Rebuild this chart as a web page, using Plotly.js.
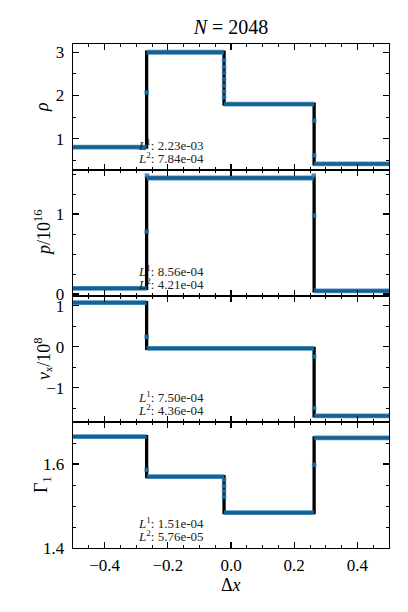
<!DOCTYPE html>
<html>
<head>
<meta charset="utf-8">
<script src="https://cdn.plot.ly/plotly-3.0.1.min.js"></script>
<style>
html,body{margin:0;padding:0;background:#fff;}
#chart{width:408px;height:612px;}
</style>
</head>
<body>
<div id="chart"></div>
<script>
// ---- data ----
const xEdges = [-0.5, -0.267, -0.022, 0.263, 0.5];   // left boundary, left shock, contact, right shock, right boundary

const rhoStates   = [0.81, 3.00, 1.80, 0.42];
const presStates  = [0.07, 1.45, 1.45, 0.04];
const velStates   = [1.08, -0.04, -0.04, -1.69];
const gammaStates = [1.665, 1.570, 1.484, 1.662];

// intermediate numerical cells on the discontinuities
const rhoJumpX   = [-0.267, -0.022, -0.022, -0.022, -0.022, -0.022, -0.022, -0.022, 0.263, 0.263];
const rhoJumpY   = [2.07, 2.81, 2.66, 2.52, 2.37, 2.23, 2.09, 1.96, 1.42, 0.62];
const presJumpX  = [-0.267, -0.266, 0.262, 0.263];
const presJumpY  = [0.78, 1.48, 1.48, 0.98];
const velJumpX   = [-0.267, 0.263, 0.263];
const velJumpY   = [0.24, -0.24, -1.50];
const gammaJumpX = [-0.267, -0.022, -0.022, -0.022, -0.022, 0.263];
const gammaJumpY = [1.586, 1.562, 1.548, 1.535, 1.522, 1.598];

const errL1 = ["2.23e-03", "8.56e-04", "7.50e-04", "1.51e-04"];
const errL2 = ["7.84e-04", "4.21e-04", "4.36e-04", "5.76e-05"];

const yLabels = ["<i>ρ</i>", "<i>p</i>/10<sup>16</sup>", "<i>v</i>ₓ/10<sup>8</sup>", "Γ<sub>1</sub>"];
const yRanges = [[0.28, 3.19], [-0.025, 1.55], [-1.84, 1.24], [1.4, 1.70]];
const yDticks = [1, 1, 1, 0.2];
const yMinor  = [0.5, 0.25, 0.5, 0.05];
const yFormat = ["d", "d", "d", ".1f"];

// ---- build ----
const panels = [
  {states: rhoStates,   jx: rhoJumpX,   jy: rhoJumpY},
  {states: presStates,  jx: presJumpX,  jy: presJumpY},
  {states: velStates,   jx: velJumpX,   jy: velJumpY},
  {states: gammaStates, jx: gammaJumpX, jy: gammaJumpY}
];

const FONT = "Liberation Serif, DejaVu Serif, serif";
const blue = "rgba(31,119,180,0.8)";
const traces = [];
const layout = {
  width: 408, height: 612,
  margin: {l: 73, r: 19, t: 44, b: 64},
  paper_bgcolor: "#fff", plot_bgcolor: "#fff",
  showlegend: false,
  font: {family: FONT, color: "#000", size: 17},
  title: {text: "<i>N</i> = 2048", x: 0.5, xref: "paper", xanchor: "center",
          y: 1 - 27/612, yref: "container", yanchor: "middle",
          font: {family: FONT, size: 20, color: "#000"}},
  annotations: []
};

const n = panels.length;
panels.forEach((p, i) => {
  const k = i + 1;
  const xa = k === 1 ? "x" : "x" + k;
  const ya = k === 1 ? "y" : "y" + k;
  const s = p.states;
  const e = xEdges;
  // exact solution (black step)
  const ex = [], ey = [];
  for (let j = 0; j < s.length; j++) { ex.push(e[j], e[j+1]); ey.push(s[j], s[j]); }
  traces.push({x: ex, y: ey, xaxis: xa, yaxis: ya, mode: "lines",
               line: {color: "#000", width: 3.3}, hoverinfo: "skip"});
  // numerical solution plateaus (blue)
  const nx = [], ny = [];
  for (let j = 0; j < s.length; j++) {
    if (j > 0) { nx.push(null); ny.push(null); }
    nx.push(e[j], e[j+1]); ny.push(s[j], s[j]);
  }
  traces.push({x: nx, y: ny, xaxis: xa, yaxis: ya, mode: "lines",
               line: {color: blue, width: 4.8}, connectgaps: false, hoverinfo: "skip"});
  // numerical cells inside jumps
  traces.push({x: p.jx, y: p.jy, xaxis: xa, yaxis: ya, mode: "markers",
               marker: {color: blue, size: 4.5, symbol: "square"}, hoverinfo: "skip"});

  const top = 1 - i / n, bot = 1 - (i + 1) / n;
  layout[(k === 1 ? "xaxis" : "xaxis" + k)] = {
    domain: [0, 1], anchor: ya, matches: k === 1 ? undefined : "x",
    range: [-0.5, 0.5], dtick: 0.2, tick0: 0, tickformat: ".1f",
    showticklabels: k === n, ticks: "inside", ticklen: 6, tickwidth: 1.2, tickcolor: "#000",
    minor: {dtick: 0.05, ticks: "inside", ticklen: 3, tickwidth: 1, tickcolor: "#000", showgrid: false},
    showline: true, linecolor: "#000", linewidth: 1.3, mirror: "allticks",
    showgrid: false, zeroline: false, ticklabelstandoff: 1,
    tickfont: {family: FONT, size: 17, color: "#000"}
  };
  layout[(k === 1 ? "yaxis" : "yaxis" + k)] = {
    domain: [bot, top], anchor: xa, range: yRanges[i], dtick: yDticks[i], tick0: 0,
    tickformat: yFormat[i],
    ticks: "inside", ticklen: 6, tickwidth: 1.2, tickcolor: "#000",
    minor: {dtick: yMinor[i], ticks: "inside", ticklen: 3, tickwidth: 1, tickcolor: "#000", showgrid: false},
    showline: true, linecolor: "#000", linewidth: 1.3, mirror: "allticks",
    showgrid: false, zeroline: false, ticklabelstandoff: 4,
    tickfont: {family: FONT, size: 17, color: "#000"}
  };
  // y label
  layout.annotations.push({text: yLabels[i], xref: "paper", yref: "paper",
    x: (42 - 73) / 316, y: (bot + top) / 2, xanchor: "center", yanchor: "middle",
    textangle: -90, showarrow: false, font: {family: FONT, size: 18, color: "#000"}});
  // error labels
  const ydom = ya + " domain";
  const xdom = xa + " domain";
  layout.annotations.push({text: "<i>L</i><sup>1</sup>: " + errL1[i], xref: xdom, yref: ydom,
    x: 0.2, y: 25 / 126, xanchor: "left", yanchor: "middle", showarrow: false,
    font: {family: FONT, size: 13, color: "#222"}});
  layout.annotations.push({text: "<i>L</i><sup>2</sup>: " + errL2[i], xref: xdom, yref: ydom,
    x: 0.2, y: 12.5 / 126, xanchor: "left", yanchor: "middle", showarrow: false,
    font: {family: FONT, size: 13, color: "#222"}});
});

// x label
layout.annotations.push({text: "Δ<i>x</i>", xref: "paper", yref: "paper",
  x: 0.5, y: -(585 - 548) / 504, xanchor: "center", yanchor: "middle", showarrow: false,
  font: {family: FONT, size: 18, color: "#000"}});

Plotly.newPlot("chart", traces, layout, {staticPlot: true, displayModeBar: false});
</script>
</body>
</html>
